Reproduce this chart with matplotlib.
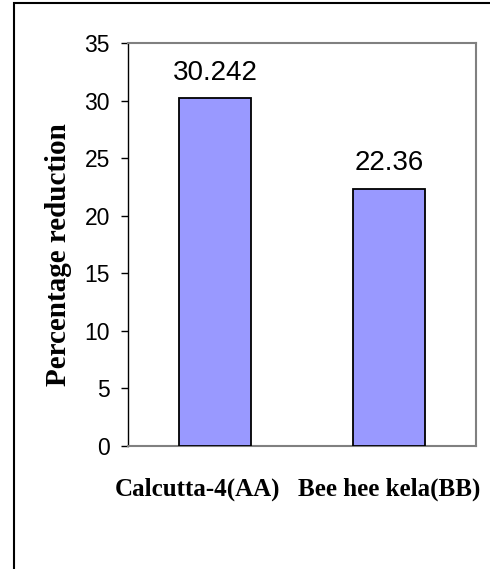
import matplotlib
matplotlib.use("Agg")
import matplotlib.pyplot as plt
import matplotlib.transforms as mtransforms
from matplotlib.patches import Rectangle

categories = ["Calcutta-4(AA)", "Bee hee kela(BB)"]
values = [30.242, 22.36]
value_labels = ["30.242", "22.36"]
y_ticks = [0, 5, 10, 15, 20, 25, 30, 35]

W, H = 490, 569
fig = plt.figure(figsize=(W / 100, H / 100), dpi=100)

# outer chart border (open to the right and bottom edges)
fig.patches.append(Rectangle((14 / W, -0.05), 1.1, 1 - 3 / H + 0.05,
                             transform=fig.transFigure, fill=False,
                             edgecolor="black", linewidth=1.5))

left, right, top, bottom = 128, 476, 43, 446
ax = fig.add_axes([left / W, 1 - bottom / H, (right - left) / W, (bottom - top) / H])

x = list(range(len(categories)))
ax.bar(x, values, width=0.41, color="#9999FF", edgecolor="black", linewidth=1.3, zorder=3)

for xi, v, lab in zip(x, values, value_labels):
    ax.annotate(lab, (xi, v), xytext=(0, 13), textcoords="offset points",
                ha="center", va="baseline", fontsize=20, family="Liberation Sans")

ax.set_xlim(-0.5, 1.5)
ax.set_ylim(0, 35)
ax.set_yticks(y_ticks)
ax.set_yticklabels([str(t) for t in y_ticks], family="Liberation Sans", fontsize=16.5)
ax.set_xticks(x)
ax.set_xticklabels(categories, family="Liberation Serif", fontweight="bold", fontsize=18)
ax.tick_params(axis="x", length=0, pad=23)
ax.tick_params(axis="y", direction="out", length=5, width=1, pad=8)

# category labels sit slightly left of their bars
for lbl, dx in zip(ax.get_xticklabels(), (-18, 0)):
    lbl.set_transform(lbl.get_transform() +
                      mtransforms.ScaledTranslation(dx / 100, 0, fig.dpi_scale_trans))

for side in ("top", "right", "bottom"):
    ax.spines[side].set_color("#808080")
    ax.spines[side].set_linewidth(1.5)
ax.spines["left"].set_color("black")
ax.spines["left"].set_linewidth(1)

ax.set_ylabel("Percentage reduction", family="Liberation Serif", fontweight="bold",
              fontsize=21)
ax.yaxis.set_label_coords(-0.162, 0.476)

fig.savefig("out.png", dpi=100)
